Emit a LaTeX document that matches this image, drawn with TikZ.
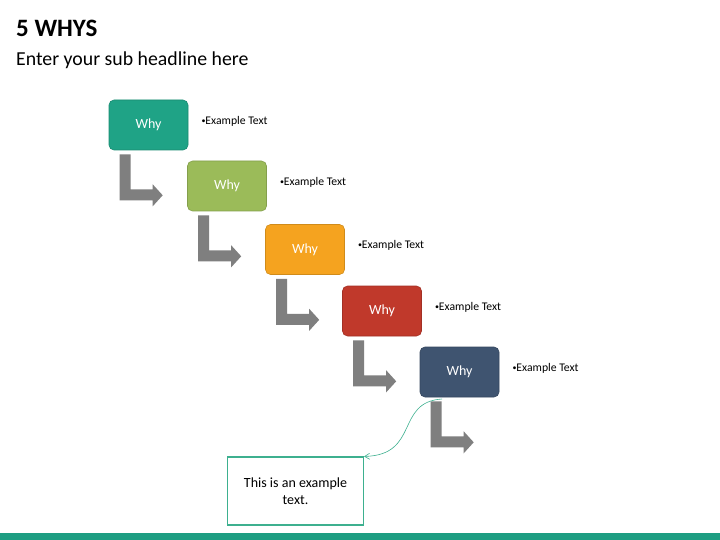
\documentclass[tikz,border=0pt]{standalone}
\usepackage{fontspec}
\setmainfont{Carlito}
\usetikzlibrary{arrows.meta}
\definecolor{cteal}{HTML}{1FA386}
\definecolor{cgreen}{HTML}{9BBB59}
\definecolor{corange}{HTML}{F5A31F}
\definecolor{cred}{HTML}{C0392B}
\definecolor{cslate}{HTML}{3F5470}
\definecolor{cgray}{HTML}{7F7F7F}
\definecolor{cline}{HTML}{3DB08F}
\definecolor{cbar}{HTML}{1E9E82}
\tikzset{
  whybox/.style={rounded corners=5pt, minimum width=79pt, minimum height=50pt, inner sep=0pt, text=white, font=\fontsize{14}{16}\selectfont, draw=#1!85!black, fill=#1, line width=0.6pt},
  extext/.style={anchor=west, inner sep=0pt, font=\fontsize{11.7}{14}\selectfont},
  bentarrow/.style={fill=cgray, draw=none},
}
\newcommand{\smbul}{{\fontsize{8}{8}\selectfont\raisebox{0.8pt}{\textbullet}}}
\begin{document}
\begin{tikzpicture}[x=1pt,y=-1pt]
\useasboundingbox (0,0) rectangle (720,540);
\fill[white] (0,0) rectangle (720,540);
% title
\node[anchor=base west, inner sep=0pt, font=\fontsize{25}{30}\selectfont\bfseries] (title) at (16,37) {5 WHYS};
\node[anchor=base west, inner sep=0pt, font=\fontsize{19.8}{24}\selectfont] (sub) at (16,66) {Enter your sub headline here};
% boxes
\foreach \i/\x/\y/\c in {1/148.5/125/cteal, 2/227/186/cgreen, 3/305/249.5/corange, 4/382/311/cred, 5/459.5/372/cslate}{
  \node[whybox=\c] (b\i) at (\x,\y) {\raisebox{-2pt}{Why}};
  \node[extext] (t\i) at ([xshift=13pt,yshift=4pt]b\i.east) {\smbul Example Text};
  \fill[bentarrow] ([xshift=11pt,yshift=-4pt]b\i.south west) coordinate (a\i)
    -- ++(11,0) -- ++(0,35) -- ++(22,0) -- ++(0,-5) -- ++(10,11) -- ++(-10,11) -- ++(0,-6) -- ++(-33,0) -- cycle;
}
% callout
\node[draw=cline, line width=1.1pt, minimum width=136pt, minimum height=68pt, align=center, inner sep=0pt, font=\fontsize{14}{17}\selectfont] (call) at (295.5,491) {This is an example\\text.};
\coordinate (cs) at (442,399);
\draw[cline, line width=0.6pt, -{Straight Barb[length=5pt,width=6pt]}] (cs) .. controls (395,402) and (420,455) .. (call.north east);
% bottom bar
\fill[cbar] (0,533) rectangle (720,540);
\end{tikzpicture}
\end{document}
